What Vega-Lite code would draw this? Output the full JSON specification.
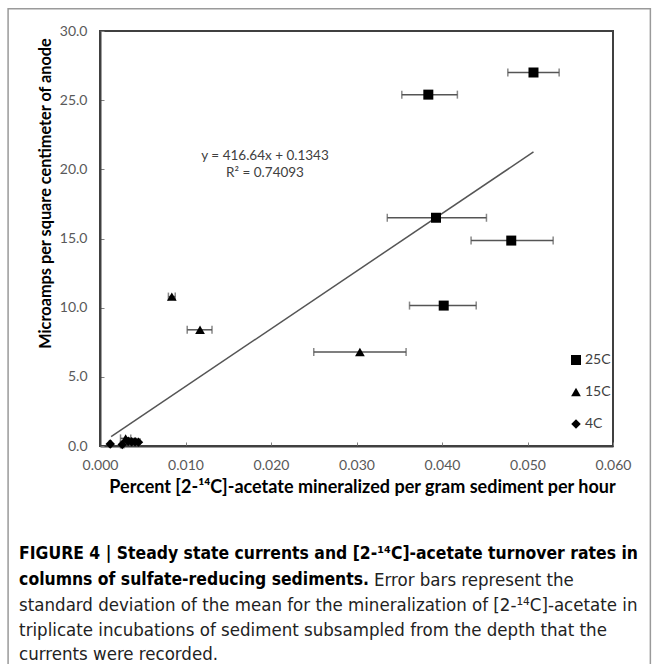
{
  "$schema": "https://vega.github.io/schema/vega-lite/v6.json",
  "width": 513,
  "height": 415,
  "autosize": "none",
  "padding": {"left": 100, "top": 31, "right": 47, "bottom": 218},
  "background": "white",
  "config": {
    "view": {"stroke": "#404040", "strokeWidth": 2},
    "font": "Lato"
  },
  "datasets": {
    "pts": [
      {"series": "25C", "x": 0.0507, "y": 27.0, "xmin": 0.0477, "xmax": 0.0537},
      {"series": "25C", "x": 0.0384, "y": 25.4, "xmin": 0.0353, "xmax": 0.0418},
      {"series": "25C", "x": 0.0393, "y": 16.5, "xmin": 0.0336, "xmax": 0.0452},
      {"series": "25C", "x": 0.0481, "y": 14.85, "xmin": 0.0434, "xmax": 0.0530},
      {"series": "25C", "x": 0.0402, "y": 10.15, "xmin": 0.0362, "xmax": 0.0440},
      {"series": "15C", "x": 0.0304, "y": 6.8, "xmin": 0.0250, "xmax": 0.0358},
      {"series": "15C", "x": 0.0117, "y": 8.4, "xmin": 0.0102, "xmax": 0.0131},
      {"series": "15C", "x": 0.0084, "y": 10.8, "xmin": 0.0080, "xmax": 0.0088},
      {"series": "15C", "x": 0.0030, "y": 0.55, "xmin": 0.0024, "xmax": 0.0036},
      {"series": "4C", "x": 0.0012, "y": 0.15, "xmin": 0.0011, "xmax": 0.0013},
      {"series": "4C", "x": 0.0026, "y": 0.1, "xmin": 0.0024, "xmax": 0.0028},
      {"series": "4C", "x": 0.0033, "y": 0.35, "xmin": 0.0031, "xmax": 0.0035},
      {"series": "4C", "x": 0.0037, "y": 0.3, "xmin": 0.0035, "xmax": 0.0039},
      {"series": "4C", "x": 0.0041, "y": 0.3, "xmin": 0.0039, "xmax": 0.0043},
      {"series": "4C", "x": 0.0045, "y": 0.28, "xmin": 0.0043, "xmax": 0.0047}
    ],
    "fit": [
      {"x": 0.0013, "y": 0.68},
      {"x": 0.0507, "y": 21.26}
    ],
    "one": [{}]
  },
  "layer": [
    {
      "data": {"name": "pts"},
      "mark": {"type": "rule", "color": "#555555", "strokeWidth": 1.5},
      "encoding": {
        "x": {"field": "xmin", "type": "quantitative", "scale": {"domain": [0, 0.06], "nice": false, "zero": false, "padding": 0},
          "axis": {
            "values": [0, 0.01, 0.02, 0.03, 0.04, 0.05, 0.06],
            "format": ".3f",
            "grid": false,
            "labelFlush": false,
            "labelFontSize": 14,
            "labelColor": "#595959",
            "labelPadding": 16,
            "tickSize": -4,
            "tickColor": "#808080",
            "domainColor": "#404040",
            "domainWidth": 2,
            "title": "Percent [2-¹⁴C]-acetate mineralized per gram sediment per hour",
            "titleFontSize": 18,
            "titleFontWeight": "bold",
            "titleColor": "#000000",
            "titlePadding": 6,
            "titleX": 262
          }},
        "x2": {"field": "xmax"},
        "y": {"field": "y", "type": "quantitative", "scale": {"domain": [0, 30], "nice": false, "zero": false, "padding": 0},
          "axis": {
            "values": [0, 5, 10, 15, 20, 25, 30],
            "format": ".1f",
            "grid": false,
            "labelFlush": false,
            "labelFontSize": 14,
            "labelColor": "#595959",
            "labelPadding": 17,
            "tickSize": -4,
            "tickColor": "#808080",
            "domainColor": "#404040",
            "domainWidth": 2,
            "title": "Microamps per square centimeter of anode",
            "titleFontSize": 16.3,
            "titleFontWeight": "bold",
            "titleColor": "#000000",
            "titleX": -55,
            "titleY": 162,
            "titleBaseline": "middle"
          }}
      }
    },
    {
      "data": {"name": "pts"},
      "mark": {"type": "tick", "orient": "vertical", "color": "#555555", "size": 8, "thickness": 1.5},
      "encoding": {
        "x": {"field": "xmin", "type": "quantitative"},
        "y": {"field": "y", "type": "quantitative"}
      }
    },
    {
      "data": {"name": "pts"},
      "mark": {"type": "tick", "orient": "vertical", "color": "#555555", "size": 8, "thickness": 1.5},
      "encoding": {
        "x": {"field": "xmax", "type": "quantitative"},
        "y": {"field": "y", "type": "quantitative"}
      }
    },
    {
      "data": {"name": "fit"},
      "mark": {"type": "line", "color": "#555555", "strokeWidth": 1.5},
      "encoding": {
        "x": {"field": "x", "type": "quantitative"},
        "y": {"field": "y", "type": "quantitative"}
      }
    },
    {
      "data": {"name": "pts"},
      "mark": {"type": "point", "filled": true, "color": "black", "opacity": 1},
      "encoding": {
        "x": {"field": "x", "type": "quantitative"},
        "y": {"field": "y", "type": "quantitative"},
        "shape": {"field": "series", "type": "nominal",
          "scale": {"domain": ["25C", "15C", "4C"], "range": ["square", "triangle-up", "diamond"]},
          "legend": {
            "title": null,
            "orient": "none",
            "legendX": 469,
            "legendY": 322,
            "rowPadding": 18,
            "labelFontSize": 14,
            "labelColor": "#404040",
            "labelOffset": 2,
            "symbolFillColor": "black",
            "symbolStrokeWidth": 0
          }},
        "size": {"field": "series", "type": "nominal",
          "scale": {"domain": ["25C", "15C", "4C"], "range": [100, 90, 50]}}
      }
    },
    {
      "data": {"name": "one"},
      "mark": {"type": "text", "text": "y = 416.64x + 0.1343", "fontSize": 13.5, "color": "#404040", "align": "center", "baseline": "middle"},
      "encoding": {"x": {"datum": 0.0193}, "y": {"datum": 20.97}}
    },
    {
      "data": {"name": "one"},
      "mark": {"type": "text", "text": "R² = 0.74093", "fontSize": 13.5, "color": "#404040", "align": "center", "baseline": "middle"},
      "encoding": {"x": {"datum": 0.0193}, "y": {"datum": 19.76}}
    },
    {
      "data": {"name": "one"},
      "mark": {"type": "text", "text": "FIGURE 4 | Steady state currents and [2-¹⁴C]-acetate turnover rates in", "font": "DejaVu Sans Condensed, sans-serif", "fontWeight": "bold", "fontSize": 17.4, "color": "#000000", "align": "left", "baseline": "middle"},
      "encoding": {"x": {"datum": -0.00946}, "y": {"datum": -7.81}}
    },
    {
      "data": {"name": "one"},
      "mark": {"type": "text", "text": "columns of sulfate-reducing sediments.", "font": "DejaVu Sans Condensed, sans-serif", "fontWeight": "bold", "fontSize": 17.4, "color": "#000000", "align": "left", "baseline": "middle"},
      "encoding": {"x": {"datum": -0.00946}, "y": {"datum": -9.69}}
    },
    {
      "data": {"name": "one"},
      "mark": {"type": "text", "text": "Error bars represent the", "font": "DejaVu Sans Condensed, sans-serif", "fontSize": 18.5, "color": "#222222", "align": "left", "baseline": "middle"},
      "encoding": {"x": {"datum": 0.03205}, "y": {"datum": -9.69}}
    },
    {
      "data": {"name": "one"},
      "mark": {"type": "text", "text": "standard deviation of the mean for the mineralization of [2-¹⁴C]-acetate in", "font": "DejaVu Sans Condensed, sans-serif", "fontSize": 18.5, "color": "#222222", "align": "left", "baseline": "middle"},
      "encoding": {"x": {"datum": -0.00946}, "y": {"datum": -11.49}}
    },
    {
      "data": {"name": "one"},
      "mark": {"type": "text", "text": "triplicate incubations of sediment subsampled from the depth that the", "font": "DejaVu Sans Condensed, sans-serif", "fontSize": 18.5, "color": "#222222", "align": "left", "baseline": "middle"},
      "encoding": {"x": {"datum": -0.00946}, "y": {"datum": -13.30}}
    },
    {
      "data": {"name": "one"},
      "mark": {"type": "text", "text": "currents were recorded.", "font": "DejaVu Sans Condensed, sans-serif", "fontSize": 18.5, "color": "#222222", "align": "left", "baseline": "middle"},
      "encoding": {"x": {"datum": -0.00946}, "y": {"datum": -15.04}}
    },
    {
      "data": {"name": "one"},
      "mark": {"type": "rect", "filled": false, "color": "#9a9a9a", "strokeWidth": 1.5},
      "encoding": {"x": {"datum": -0.01075}, "x2": {"datum": 0.06437}, "y": {"datum": 31.6}, "y2": {"datum": -17}}
    }
  ]
}
